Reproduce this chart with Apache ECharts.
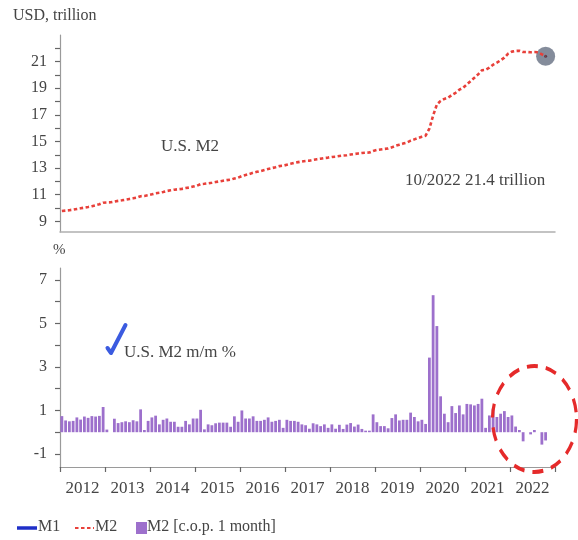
<!DOCTYPE html>
<html>
<head>
<meta charset="utf-8">
<script src="https://cdn.jsdelivr.net/npm/echarts@6/dist/echarts.min.js"></script>
<style>
  html, body { margin: 0; padding: 0; background: #ffffff; }
  #chart { width: 578px; height: 540px; }
</style>
</head>
<body>
<div id="chart"></div>
<script>
// Year tick labels along the shared time axis (Jan 2012 .. Dec 2022, monthly bands)
const YEARS = ['2012', '2013', '2014', '2015', '2016', '2017', '2018', '2019', '2020', '2021', '2022'];

// U.S. M2 money stock, USD trillion, month by month
const M2_2012 = [9.78, 9.81, 9.84, 9.88, 9.93, 9.98, 10.03, 10.08, 10.14, 10.21, 10.28, 10.40];
const M2_2013 = [10.42, 10.43, 10.49, 10.54, 10.58, 10.63, 10.68, 10.73, 10.78, 10.89, 10.91, 10.96];
const M2_2014 = [11.03, 11.11, 11.15, 11.21, 11.28, 11.33, 11.38, 11.41, 11.44, 11.50, 11.54, 11.61];
const M2_2015 = [11.68, 11.80, 11.82, 11.86, 11.90, 11.95, 12.00, 12.05, 12.10, 12.13, 12.22, 12.28];
const M2_2016 = [12.40, 12.48, 12.56, 12.65, 12.72, 12.78, 12.86, 12.94, 13.00, 13.07, 13.15, 13.18];
const M2_2017 = [13.25, 13.32, 13.39, 13.45, 13.50, 13.54, 13.56, 13.62, 13.67, 13.71, 13.76, 13.79];
const M2_2018 = [13.84, 13.86, 13.91, 13.95, 13.97, 14.02, 14.06, 14.10, 14.14, 14.16, 14.17, 14.29];
const M2_2019 = [14.36, 14.40, 14.44, 14.47, 14.56, 14.68, 14.76, 14.84, 14.92, 15.06, 15.16, 15.26];
const M2_2020 = [15.36, 15.44, 15.96, 16.95, 17.77, 18.05, 18.20, 18.29, 18.50, 18.66, 18.89, 19.04];
const M2_2021 = [19.29, 19.54, 19.78, 20.04, 20.35, 20.39, 20.55, 20.77, 20.92, 21.10, 21.30, 21.60];
const M2_2022 = [21.75, 21.80, 21.82, 21.72, 21.72, 21.70, 21.72, 21.70, 21.55, 21.40];

// M2 change on previous month, %
const MOM_2012 = [0.74, 0.54, 0.50, 0.52, 0.68, 0.58, 0.72, 0.66, 0.74, 0.72, 0.75, 1.16];
const MOM_2013 = [0.12, 0.00, 0.62, 0.42, 0.46, 0.50, 0.46, 0.55, 0.50, 1.05, 0.10, 0.52];
const MOM_2014 = [0.68, 0.76, 0.36, 0.57, 0.63, 0.48, 0.48, 0.25, 0.25, 0.52, 0.36, 0.63];
const MOM_2015 = [0.63, 1.03, 0.13, 0.36, 0.32, 0.41, 0.44, 0.44, 0.44, 0.25, 0.73, 0.48];
const MOM_2016 = [1.00, 0.63, 0.63, 0.73, 0.52, 0.52, 0.57, 0.68, 0.48, 0.52, 0.57, 0.20];
const MOM_2017 = [0.57, 0.52, 0.52, 0.48, 0.36, 0.32, 0.16, 0.41, 0.36, 0.28, 0.36, 0.20];
const MOM_2018 = [0.36, 0.16, 0.34, 0.15, 0.35, 0.42, 0.26, 0.35, 0.15, 0.07, 0.07, 0.82];
const MOM_2019 = [0.46, 0.28, 0.28, 0.18, 0.65, 0.82, 0.54, 0.57, 0.57, 0.90, 0.70, 0.50];
const MOM_2020 = [0.57, 0.38, 3.43, 6.30, 4.88, 1.65, 0.85, 0.46, 1.20, 0.88, 1.23, 0.82];
const MOM_2021 = [1.30, 1.28, 1.23, 1.30, 1.54, 0.20, 0.77, 1.08, 0.70, 0.85, 0.97, 0.70];
const MOM_2022 = [0.77, 0.26, 0.10, -0.42, 0.00, -0.10, 0.10, 0.00, -0.57, -0.38];

const LAST_LABEL = '10/2022 21.4 trillion';

const m2Level = [].concat(M2_2012, M2_2013, M2_2014, M2_2015, M2_2016, M2_2017,
  M2_2018, M2_2019, M2_2020, M2_2021, M2_2022);
const m2Mom = [].concat(MOM_2012, MOM_2013, MOM_2014, MOM_2015, MOM_2016, MOM_2017,
  MOM_2018, MOM_2019, MOM_2020, MOM_2021, MOM_2022);

const MONTHS = YEARS.length * 12;           // width of the time axis in months
const mid = i => i + 0.5;                   // centre of month band i
const levelData = m2Level.map((v, i) => [mid(i), v]);
const momData = m2Mom.map((v, i) => [mid(i), v]);
const lastPoint = levelData[levelData.length - 1];

const yearStarts = YEARS.map((y, k) => k * 12).concat([MONTHS]);
const yearMids = YEARS.map((y, k) => k * 12 + 6);

const FONT = 'Liberation Serif';
const TXT = '#454545';
const AXIS = '#9a9a9a';

const chart = echarts.init(document.getElementById('chart'), null, { renderer: 'canvas' });

const option = {
  backgroundColor: '#ffffff',
  animation: false,
  grid: [
    { left: 60, right: 23, top: 35, height: 197 },
    { left: 60, right: 23, top: 268, height: 199 }
  ],
  xAxis: [
    {
      type: 'value', gridIndex: 0, min: 0, max: MONTHS,
      axisLine: { show: true, lineStyle: { color: '#b0b0b0', width: 1.5 } },
      axisTick: { show: false }, axisLabel: { show: false }, splitLine: { show: false }
    },
    {
      type: 'value', gridIndex: 1, min: 0, max: MONTHS,
      axisLine: { show: true, onZero: false, lineStyle: { color: AXIS, width: 1.2 } },
      axisTick: { show: true, length: 5, lineStyle: { color: '#666', width: 1.2 }, customValues: yearStarts },
      axisLabel: {
        show: true, margin: 13, color: TXT, fontFamily: FONT, fontSize: 17,
        customValues: yearMids,
        formatter: v => YEARS[Math.round((v - 6) / 12)]
      },
      splitLine: { show: false }
    }
  ],
  yAxis: [
    {
      type: 'value', gridIndex: 0, min: 8.2, max: 23,
      axisLine: { show: true, lineStyle: { color: AXIS, width: 1.2 } },
      axisTick: { show: true, length: 5, lineStyle: { color: '#666', width: 1.2 },
        customValues: [9, 10, 11, 12, 13, 14, 15, 16, 17, 18, 19, 20, 21, 22] },
      axisLabel: { show: true, margin: 13, color: TXT, fontFamily: FONT, fontSize: 16,
        customValues: [9, 11, 13, 15, 17, 19, 21] },
      splitLine: { show: false }
    },
    {
      type: 'value', gridIndex: 1, min: -1.6, max: 7.55,
      axisLine: { show: true, lineStyle: { color: AXIS, width: 1.2 } },
      axisTick: { show: true, length: 5, lineStyle: { color: '#666', width: 1.2 },
        customValues: [-1, 0, 1, 2, 3, 4, 5, 6, 7] },
      axisLabel: { show: true, margin: 13, color: TXT, fontFamily: FONT, fontSize: 16,
        customValues: [-1, 1, 3, 5, 7] },
      splitLine: { show: false }
    }
  ],
  series: [
    {
      name: 'M2', type: 'line', xAxisIndex: 0, yAxisIndex: 0,
      data: levelData, showSymbol: false, smooth: false,
      lineStyle: { color: '#e8403a', width: 2.6, type: [3.5, 2.5] }
    },
    {
      name: 'M2 last', type: 'scatter', xAxisIndex: 0, yAxisIndex: 0,
      data: [lastPoint], symbolSize: 19,
      itemStyle: { color: '#7d8696', opacity: 0.95 }
    },
    {
      name: 'M2 last core', type: 'scatter', xAxisIndex: 0, yAxisIndex: 0,
      data: [lastPoint], symbolSize: 3,
      itemStyle: { color: '#4a2a3a' }
    },
    {
      name: 'M2 [c.o.p. 1 month]', type: 'bar', xAxisIndex: 1, yAxisIndex: 1,
      data: momData, barWidth: 2.8,
      itemStyle: { color: '#9d70cc' }
    }
  ],
  graphic: [
    // axis titles and notes
    { type: 'text', left: 13, top: 8, style: { text: 'USD, trillion', font: '16px ' + FONT, fill: TXT } },
    { type: 'text', left: 161, top: 138, style: { text: 'U.S. M2', font: '17px ' + FONT, fill: TXT } },
    { type: 'text', left: 405, top: 172, style: { text: LAST_LABEL, font: '17px ' + FONT, fill: TXT } },
    { type: 'text', left: 53, top: 243, style: { text: '%', font: '15px ' + FONT, fill: TXT } },
    { type: 'text', left: 124, top: 344, style: { text: 'U.S. M2 m/m %', font: '17px ' + FONT, fill: TXT } },
    // hand-drawn tick mark
    {
      type: 'polyline', z: 10,
      shape: { points: [[125.5, 325], [111, 353], [107.5, 348]] },
      style: { stroke: '#3b5be0', lineWidth: 4, lineCap: 'round', lineJoin: 'round', fill: null }
    },
    // dashed ellipse around the 2022 bars
    {
      type: 'circle', z: 10, x: 534.5, y: 419, scaleY: 53 / 42,
      shape: { cx: 0, cy: 0, r: 42 },
      style: { stroke: '#e52a2a', lineWidth: 3.2, lineDash: [11, 8], fill: null }
    },
    // legend
    { type: 'line', shape: { x1: 17, y1: 528, x2: 37, y2: 528 },
      style: { stroke: '#1f2fc8', lineWidth: 3.5 } },
    { type: 'text', left: 38, top: 519, style: { text: 'M1', font: '16px ' + FONT, fill: TXT } },
    { type: 'line', shape: { x1: 75, y1: 528, x2: 94, y2: 528 },
      style: { stroke: '#e8403a', lineWidth: 2, lineDash: [3.5, 2.5] } },
    { type: 'text', left: 95, top: 519, style: { text: 'M2', font: '16px ' + FONT, fill: TXT } },
    { type: 'rect', shape: { x: 136, y: 522, width: 11, height: 12 },
      style: { fill: '#9d70cc' } },
    { type: 'text', left: 147, top: 519, style: { text: 'M2 [c.o.p. 1 month]', font: '16px ' + FONT, fill: TXT } }
  ]
};

chart.setOption(option);
</script>
</body>
</html>
